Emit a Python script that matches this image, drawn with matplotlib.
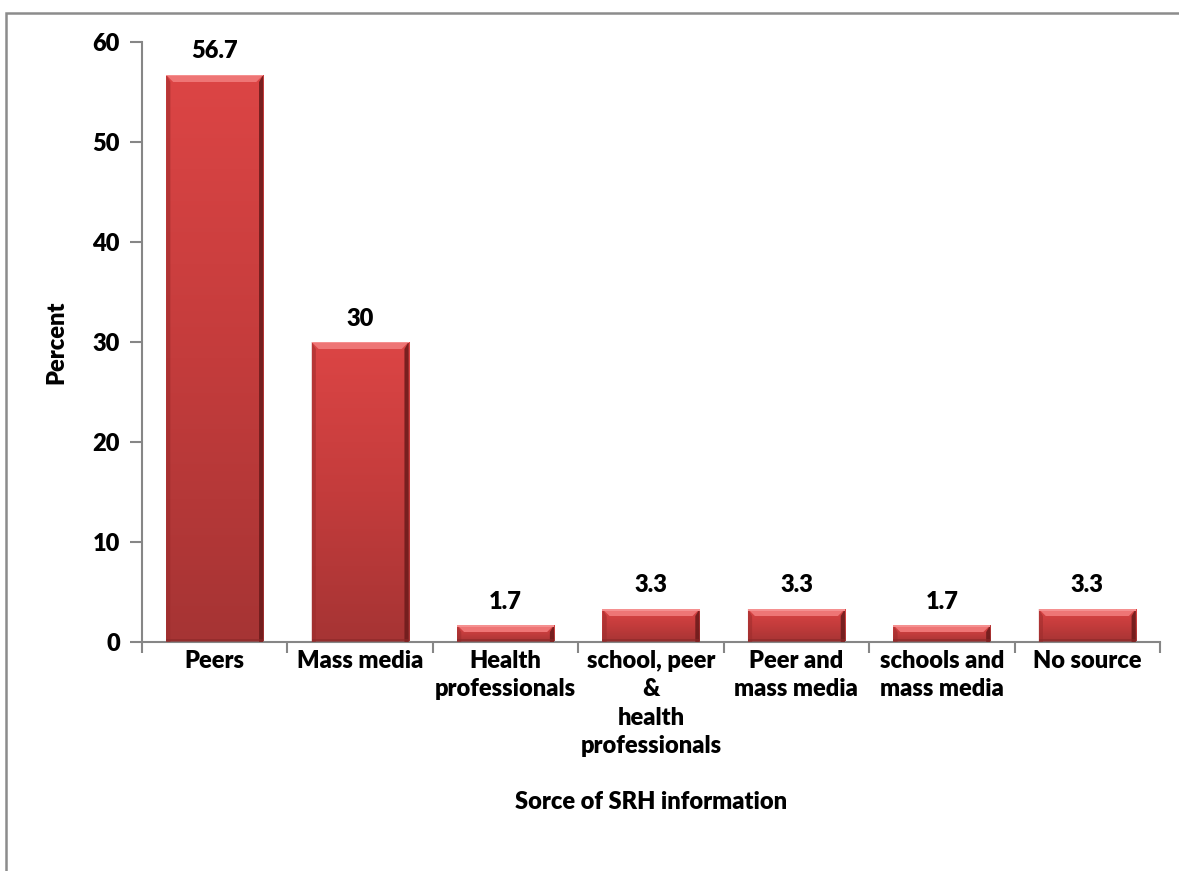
import matplotlib
matplotlib.use("Agg")
import matplotlib.pyplot as plt
import numpy as np
from matplotlib.patches import Rectangle, Polygon
from matplotlib.colors import LinearSegmentedColormap

plt.rcParams['font.family'] = ['Lato', 'DejaVu Sans']
FS = 17
FW = 800

categories = ["Peers", "Mass media", "Health\nprofessionals",
              "school, peer\n&\nhealth\nprofessionals",
              "Peer and\nmass media", "schools and\nmass media", "No source"]
percent = [56.7, 30, 1.7, 3.3, 3.3, 1.7, 3.3]
value_labels = ["56.7", "30", "1.7", "3.3", "3.3", "1.7", "3.3"]
yticks = [0, 10, 20, 30, 40, 50, 60]

W, H = 1179, 871
fig = plt.figure(figsize=(W / 100, H / 100), dpi=100)
fig.patch.set_facecolor("white")

# outer chart-area frame
fig.patches.append(Rectangle((6 / W, -0.05), 1.2, 1 - 13 / H + 0.05,
                             transform=fig.transFigure, fill=False,
                             edgecolor="#8c8c8c", linewidth=1.8))

ax = fig.add_axes([142 / W, 1 - 642 / H, (1160 - 142) / W, 600 / H])
ax.set_xlim(-0.5, len(categories) - 0.5)
ax.set_ylim(0, 60)
for s in ["top", "right"]:
    ax.spines[s].set_visible(False)
for s in ["left", "bottom"]:
    ax.spines[s].set_color("#868686")
    ax.spines[s].set_linewidth(1.5)

ax.set_yticks(yticks)
ax.set_yticklabels([str(t) for t in yticks], fontsize=FS, fontweight=FW)
ax.tick_params(axis="y", length=9, width=1.5, color="#868686", pad=7)

# category labels at centres, tick marks at category boundaries
ax.set_xticks(np.arange(len(categories)))
ax.set_xticklabels(categories, fontsize=FS, fontweight=FW, linespacing=1.34,
                   va="top")
ax.tick_params(axis="x", length=0, pad=6)
ax.set_xticks(np.arange(len(categories) + 1) - 0.5, minor=True)
ax.tick_params(axis="x", which="minor", length=8, width=1.5, color="#868686")

ax.set_ylabel("Percent", fontsize=FS, fontweight=FW, labelpad=18)
ax.set_xlabel("Sorce of SRH information", fontsize=FS, fontweight=FW, labelpad=25)

# pixel-to-data conversion factors
px_x = 1.0 / ((1160 - 142) / len(categories))
px_y = 60.0 / 600

bar_w = 0.667
grad = LinearSegmentedColormap.from_list("barfill", ["#a63434", "#c43c3c", "#dc4545"])
gimg = np.linspace(0, 1, 256).reshape(-1, 1)

for i, v in enumerate(percent):
    x0, x1 = i - bar_w / 2, i + bar_w / 2
    body = Rectangle((x0, 0), bar_w, v, facecolor="#c94040", edgecolor="none", zorder=2)
    ax.add_patch(body)
    im = ax.imshow(gimg, cmap=grad, aspect="auto", origin="lower",
                   extent=(x0, x1, 0, v), zorder=2.1, interpolation="bilinear")
    im.set_clip_path(body)
    bv = min(7 * px_y, v * 0.45)
    bh = 7 * px_x
    # top bevel highlight
    ax.add_patch(Polygon([(x0, v), (x1, v), (x1 - bh, v - bv), (x0 + bh, v - bv)],
                         closed=True, facecolor="#ee7575", edgecolor="none", zorder=3))
    ax.add_patch(Rectangle((x0, v - 1.5 * px_y), bar_w, 1.5 * px_y,
                           facecolor="#f59090", edgecolor="none", zorder=3.1))
    # left bevel
    ax.add_patch(Polygon([(x0, v), (x0 + bh * 0.6, v - bv), (x0 + bh * 0.6, 0), (x0, 0)],
                         closed=True, facecolor="#9c2c2c", alpha=0.55,
                         edgecolor="none", zorder=3))
    # right bevel (shadowed)
    ax.add_patch(Polygon([(x1, v), (x1 - bh * 0.6, v - bv), (x1 - bh * 0.6, 0), (x1, 0)],
                         closed=True, facecolor="#6e1c1c", alpha=0.9,
                         edgecolor="none", zorder=3))
    # bottom shading
    ax.add_patch(Rectangle((x0, 0), bar_w, min(3 * px_y, v * 0.2),
                           facecolor="#8a2828", alpha=0.6, edgecolor="none", zorder=3))
    ax.annotate(value_labels[i], (i, v), xytext=(0, 9), textcoords="offset points",
                ha="center", va="bottom", fontsize=FS, fontweight=FW, zorder=5)

fig.savefig("out.png", dpi=100)
